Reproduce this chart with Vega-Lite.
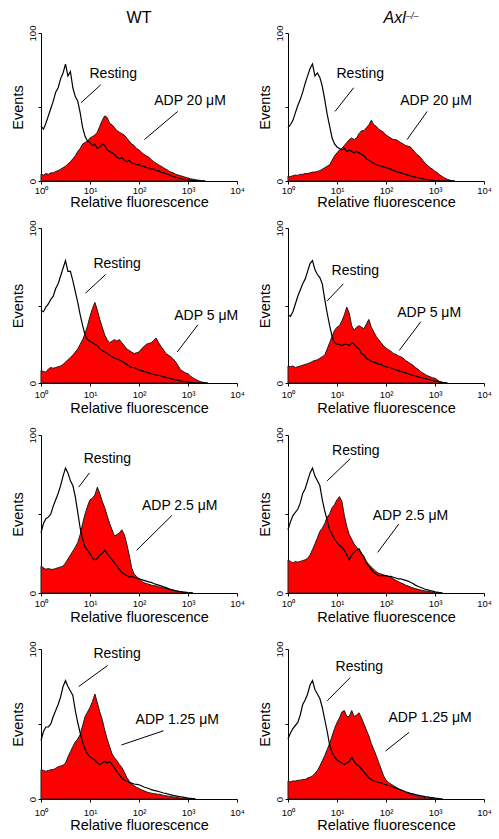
{
"$schema":"https://vega.github.io/schema/vega-lite/v6.json",
"background":"white",
"padding":{"left":10,"top":9,"right":0,"bottom":0},
"datasets":{
"p1":[{"x":0,"r":37,"a":4.5},{"x":0.05,"r":35,"a":4},{"x":0.1,"r":39,"a":5},{"x":0.15,"r":44,"a":4.5},{"x":0.2,"r":49,"a":5.5},{"x":0.25,"r":54,"a":5.5},{"x":0.3,"r":60,"a":6.5},{"x":0.35,"r":63,"a":7},{"x":0.4,"r":69,"a":8},{"x":0.45,"r":73,"a":9},{"x":0.5,"r":79,"a":10},{"x":0.55,"r":71,"a":11.5},{"x":0.6,"r":74,"a":13},{"x":0.65,"r":63,"a":15},{"x":0.7,"r":57,"a":17},{"x":0.75,"r":54,"a":20},{"x":0.8,"r":46,"a":22},{"x":0.85,"r":36,"a":25},{"x":0.9,"r":30,"a":26},{"x":0.95,"r":27,"a":27},{"x":1.0,"r":26,"a":29},{"x":1.05,"r":24,"a":30},{"x":1.1,"r":25,"a":31},{"x":1.15,"r":22,"a":33},{"x":1.2,"r":23,"a":37},{"x":1.25,"r":25,"a":41},{"x":1.3,"r":24,"a":44},{"x":1.35,"r":21,"a":43},{"x":1.4,"r":20,"a":39},{"x":1.45,"r":19,"a":38},{"x":1.5,"r":18,"a":36},{"x":1.55,"r":16,"a":34},{"x":1.6,"r":15,"a":33},{"x":1.65,"r":16,"a":32},{"x":1.7,"r":14,"a":31},{"x":1.75,"r":13,"a":29},{"x":1.8,"r":14,"a":27},{"x":1.85,"r":12,"a":25},{"x":1.9,"r":12,"a":24},{"x":1.95,"r":11,"a":22},{"x":2.0,"r":11,"a":21},{"x":2.05,"r":10,"a":19.5},{"x":2.1,"r":10,"a":18},{"x":2.15,"r":9,"a":17},{"x":2.2,"r":9,"a":16},{"x":2.25,"r":8,"a":14.5},{"x":2.3,"r":8,"a":13},{"x":2.35,"r":7,"a":12},{"x":2.4,"r":7,"a":11},{"x":2.45,"r":6,"a":10},{"x":2.5,"r":5.5,"a":9},{"x":2.55,"r":5,"a":8},{"x":2.6,"r":4.5,"a":7},{"x":2.65,"r":3.5,"a":6},{"x":2.7,"r":3,"a":5.5},{"x":2.75,"r":2.5,"a":4.5},{"x":2.8,"r":2,"a":4},{"x":2.85,"r":1.5,"a":3.5},{"x":2.9,"r":1.2,"a":3},{"x":2.95,"r":0.9,"a":2.5},{"x":3.0,"r":0.7,"a":2},{"x":3.05,"r":0.5,"a":1.5},{"x":3.1,"r":0.3,"a":1.2},{"x":3.15,"r":0.2,"a":0.9},{"x":3.2,"r":0,"a":0.6},{"x":3.25,"r":0,"a":0.4},{"x":3.3,"r":0,"a":0.2},{"x":3.35,"r":0,"a":0}],
"p2":[{"x":0,"r":36,"a":3.4},{"x":0.05,"r":38,"a":3},{"x":0.1,"r":41,"a":3.5},{"x":0.15,"r":46,"a":4},{"x":0.2,"r":51,"a":3.8},{"x":0.25,"r":55,"a":4.5},{"x":0.3,"r":60,"a":4.5},{"x":0.35,"r":66,"a":5},{"x":0.4,"r":71,"a":5},{"x":0.45,"r":76,"a":5.5},{"x":0.5,"r":79,"a":6},{"x":0.55,"r":71,"a":6},{"x":0.6,"r":73,"a":6.5},{"x":0.65,"r":70,"a":7},{"x":0.7,"r":64,"a":8},{"x":0.75,"r":55,"a":9},{"x":0.8,"r":45,"a":10},{"x":0.85,"r":37,"a":11},{"x":0.9,"r":29,"a":14},{"x":0.95,"r":25,"a":17},{"x":1.0,"r":23,"a":19},{"x":1.05,"r":22,"a":21},{"x":1.1,"r":21,"a":22},{"x":1.15,"r":22,"a":24},{"x":1.2,"r":20,"a":26},{"x":1.25,"r":21,"a":28},{"x":1.3,"r":20,"a":29},{"x":1.35,"r":19,"a":28},{"x":1.4,"r":20,"a":29},{"x":1.45,"r":19,"a":32},{"x":1.5,"r":18,"a":34},{"x":1.55,"r":17,"a":34},{"x":1.6,"r":15,"a":36},{"x":1.65,"r":14,"a":38},{"x":1.7,"r":13,"a":41},{"x":1.75,"r":12,"a":38},{"x":1.8,"r":11,"a":37},{"x":1.85,"r":10.5,"a":35},{"x":1.9,"r":10,"a":34},{"x":1.95,"r":9.5,"a":33},{"x":2.0,"r":9,"a":31},{"x":2.05,"r":8.5,"a":30},{"x":2.1,"r":8,"a":29},{"x":2.15,"r":7,"a":28},{"x":2.2,"r":6.5,"a":28},{"x":2.25,"r":6,"a":27},{"x":2.3,"r":5.5,"a":26},{"x":2.35,"r":5,"a":25},{"x":2.4,"r":4.5,"a":24},{"x":2.45,"r":4,"a":23.5},{"x":2.5,"r":3.4,"a":23},{"x":2.55,"r":3,"a":21},{"x":2.6,"r":2.6,"a":19},{"x":2.65,"r":2.2,"a":17.5},{"x":2.7,"r":1.8,"a":16},{"x":2.75,"r":1.5,"a":14},{"x":2.8,"r":1.2,"a":12},{"x":2.85,"r":1,"a":10.5},{"x":2.9,"r":0.7,"a":9},{"x":2.95,"r":0.5,"a":8},{"x":3.0,"r":0.3,"a":6.5},{"x":3.05,"r":0.2,"a":5.6},{"x":3.1,"r":0,"a":4},{"x":3.15,"r":0,"a":3},{"x":3.2,"r":0,"a":2},{"x":3.25,"r":0,"a":1.2},{"x":3.3,"r":0,"a":0.6},{"x":3.35,"r":0,"a":0.2},{"x":3.4,"r":0,"a":0}],
"p3":[{"x":0,"r":47,"a":8},{"x":0.05,"r":46,"a":7.5},{"x":0.1,"r":49,"a":7},{"x":0.15,"r":51,"a":9},{"x":0.2,"r":54,"a":10},{"x":0.25,"r":56,"a":9.5},{"x":0.3,"r":61,"a":10},{"x":0.35,"r":64,"a":10.5},{"x":0.4,"r":69,"a":11},{"x":0.45,"r":74,"a":12},{"x":0.5,"r":79,"a":13.5},{"x":0.55,"r":72,"a":15},{"x":0.6,"r":72,"a":16.5},{"x":0.65,"r":66,"a":18},{"x":0.7,"r":59,"a":20},{"x":0.75,"r":52,"a":22},{"x":0.8,"r":44,"a":25},{"x":0.85,"r":37,"a":28},{"x":0.9,"r":31,"a":32},{"x":0.95,"r":28,"a":37},{"x":1.0,"r":27,"a":43},{"x":1.05,"r":26,"a":48},{"x":1.1,"r":25,"a":52},{"x":1.15,"r":24,"a":47},{"x":1.2,"r":22,"a":41},{"x":1.25,"r":21,"a":36},{"x":1.3,"r":20,"a":31},{"x":1.35,"r":19,"a":28},{"x":1.4,"r":18,"a":26},{"x":1.45,"r":17,"a":27},{"x":1.5,"r":16,"a":28},{"x":1.55,"r":15.5,"a":27},{"x":1.6,"r":15,"a":28},{"x":1.65,"r":14,"a":26},{"x":1.7,"r":13,"a":24},{"x":1.75,"r":12,"a":22},{"x":1.8,"r":11,"a":21},{"x":1.85,"r":10,"a":20},{"x":1.9,"r":10,"a":19},{"x":1.95,"r":9,"a":19.5},{"x":2.0,"r":8.5,"a":20},{"x":2.05,"r":8,"a":22},{"x":2.1,"r":7.5,"a":23.5},{"x":2.15,"r":7,"a":25},{"x":2.2,"r":6.5,"a":25.5},{"x":2.25,"r":6,"a":26},{"x":2.3,"r":5.5,"a":27.5},{"x":2.35,"r":5,"a":29},{"x":2.4,"r":5,"a":26},{"x":2.45,"r":4.5,"a":23.5},{"x":2.5,"r":4,"a":21.5},{"x":2.55,"r":3.6,"a":19},{"x":2.6,"r":3.2,"a":18},{"x":2.65,"r":2.8,"a":17},{"x":2.7,"r":2.4,"a":15.5},{"x":2.75,"r":2,"a":13.5},{"x":2.8,"r":1.7,"a":11},{"x":2.85,"r":1.3,"a":8.5},{"x":2.9,"r":1,"a":7.5},{"x":2.95,"r":0.8,"a":6.5},{"x":3.0,"r":0.6,"a":6},{"x":3.05,"r":0.4,"a":4.5},{"x":3.1,"r":0.3,"a":3.3},{"x":3.15,"r":0.1,"a":2.5},{"x":3.2,"r":0,"a":1.6},{"x":3.25,"r":0,"a":0.9},{"x":3.3,"r":0,"a":0.5},{"x":3.35,"r":0,"a":0.2},{"x":3.4,"r":0,"a":0}],
"p4":[{"x":0,"r":44,"a":11},{"x":0.05,"r":43,"a":10.5},{"x":0.1,"r":46,"a":11},{"x":0.15,"r":51,"a":10},{"x":0.2,"r":56,"a":10.5},{"x":0.25,"r":60,"a":11},{"x":0.3,"r":64,"a":11.5},{"x":0.35,"r":67,"a":12},{"x":0.4,"r":72,"a":12.5},{"x":0.45,"r":77,"a":13},{"x":0.5,"r":79,"a":14},{"x":0.55,"r":73,"a":14.5},{"x":0.6,"r":70,"a":15},{"x":0.65,"r":68,"a":16},{"x":0.7,"r":64,"a":17},{"x":0.75,"r":54,"a":18},{"x":0.8,"r":45,"a":22},{"x":0.85,"r":37,"a":26},{"x":0.9,"r":30,"a":30},{"x":0.95,"r":26,"a":34},{"x":1.0,"r":25,"a":36},{"x":1.05,"r":25,"a":37},{"x":1.1,"r":24,"a":40},{"x":1.15,"r":25,"a":44},{"x":1.2,"r":25,"a":49},{"x":1.25,"r":24,"a":45},{"x":1.3,"r":26,"a":37},{"x":1.35,"r":25,"a":34},{"x":1.4,"r":23,"a":36},{"x":1.45,"r":22,"a":37},{"x":1.5,"r":19,"a":36},{"x":1.55,"r":18,"a":35},{"x":1.6,"r":16,"a":38},{"x":1.65,"r":15,"a":41},{"x":1.7,"r":14,"a":36},{"x":1.75,"r":13.5,"a":33},{"x":1.8,"r":13,"a":30},{"x":1.85,"r":12,"a":28},{"x":1.9,"r":12,"a":26},{"x":1.95,"r":11,"a":24},{"x":2.0,"r":10.5,"a":22.5},{"x":2.05,"r":10,"a":21.5},{"x":2.1,"r":10,"a":20.5},{"x":2.15,"r":9,"a":19},{"x":2.2,"r":8.5,"a":18.5},{"x":2.25,"r":8,"a":17.5},{"x":2.3,"r":7.5,"a":17},{"x":2.35,"r":7,"a":16},{"x":2.4,"r":6.5,"a":14.5},{"x":2.45,"r":6,"a":13.5},{"x":2.5,"r":5.3,"a":12.5},{"x":2.55,"r":5,"a":11.5},{"x":2.6,"r":4.5,"a":10},{"x":2.65,"r":4,"a":9},{"x":2.7,"r":3.6,"a":7.5},{"x":2.75,"r":3.2,"a":6.5},{"x":2.8,"r":2.8,"a":5.5},{"x":2.85,"r":2.4,"a":4.7},{"x":2.9,"r":2,"a":4},{"x":2.95,"r":1.6,"a":3.4},{"x":3.0,"r":1.3,"a":3},{"x":3.05,"r":1,"a":2},{"x":3.1,"r":0.7,"a":0.8},{"x":3.15,"r":0.4,"a":0.4},{"x":3.2,"r":0.2,"a":0.2},{"x":3.25,"r":0,"a":0}],
"p5":[{"x":0,"r":38,"a":17},{"x":0.05,"r":44,"a":16},{"x":0.1,"r":47,"a":15},{"x":0.15,"r":48,"a":15.5},{"x":0.2,"r":50,"a":15},{"x":0.25,"r":55,"a":15},{"x":0.3,"r":59,"a":15.5},{"x":0.35,"r":63,"a":16},{"x":0.4,"r":68,"a":16.5},{"x":0.45,"r":74,"a":17},{"x":0.5,"r":79,"a":19},{"x":0.55,"r":76,"a":21.5},{"x":0.6,"r":71,"a":24},{"x":0.65,"r":68,"a":26.5},{"x":0.7,"r":61,"a":29},{"x":0.75,"r":51,"a":32},{"x":0.8,"r":41,"a":37},{"x":0.85,"r":34,"a":44},{"x":0.9,"r":29,"a":50},{"x":0.95,"r":27,"a":55},{"x":1.0,"r":25,"a":59},{"x":1.05,"r":22,"a":60},{"x":1.1,"r":21,"a":62},{"x":1.15,"r":22,"a":67},{"x":1.2,"r":24,"a":63},{"x":1.25,"r":25,"a":58},{"x":1.3,"r":27,"a":54},{"x":1.35,"r":25,"a":49},{"x":1.4,"r":23,"a":44},{"x":1.45,"r":21,"a":40},{"x":1.5,"r":19,"a":36},{"x":1.55,"r":17,"a":37},{"x":1.6,"r":15,"a":38},{"x":1.65,"r":13,"a":40},{"x":1.7,"r":12,"a":37},{"x":1.75,"r":11,"a":31},{"x":1.8,"r":10,"a":24},{"x":1.85,"r":10.5,"a":16},{"x":1.9,"r":10,"a":12},{"x":1.95,"r":9.5,"a":10.5},{"x":2.0,"r":9,"a":9},{"x":2.05,"r":8.5,"a":7.5},{"x":2.1,"r":8,"a":6.5},{"x":2.15,"r":7.5,"a":6},{"x":2.2,"r":7,"a":5.5},{"x":2.25,"r":6.7,"a":5},{"x":2.3,"r":6,"a":4.7},{"x":2.35,"r":5.5,"a":4.4},{"x":2.4,"r":5,"a":4},{"x":2.45,"r":4.5,"a":3.6},{"x":2.5,"r":3.9,"a":3.2},{"x":2.55,"r":3.4,"a":2.8},{"x":2.6,"r":2.8,"a":2.4},{"x":2.65,"r":2.2,"a":2},{"x":2.7,"r":1.8,"a":1.7},{"x":2.75,"r":1.4,"a":1.4},{"x":2.8,"r":1.1,"a":1.1},{"x":2.85,"r":0.8,"a":0.9},{"x":2.9,"r":0.5,"a":0.7},{"x":2.95,"r":0.4,"a":0.5},{"x":3.0,"r":0.2,"a":0.3},{"x":3.05,"r":0.1,"a":0.1},{"x":3.1,"r":0,"a":0}],
"p6":[{"x":0,"r":40,"a":21},{"x":0.05,"r":45,"a":20},{"x":0.1,"r":49,"a":19},{"x":0.15,"r":51,"a":20},{"x":0.2,"r":53,"a":19.5},{"x":0.25,"r":57,"a":20},{"x":0.3,"r":63,"a":20.5},{"x":0.35,"r":66,"a":21},{"x":0.4,"r":71,"a":22},{"x":0.45,"r":76,"a":24},{"x":0.5,"r":79,"a":27.5},{"x":0.55,"r":74,"a":31},{"x":0.6,"r":71,"a":35},{"x":0.65,"r":68,"a":39},{"x":0.7,"r":59,"a":41},{"x":0.75,"r":52,"a":44},{"x":0.8,"r":46,"a":48},{"x":0.85,"r":40,"a":50},{"x":0.9,"r":37,"a":54},{"x":0.95,"r":34,"a":56},{"x":1.0,"r":32,"a":59},{"x":1.05,"r":30,"a":61},{"x":1.1,"r":29,"a":58},{"x":1.15,"r":27,"a":49},{"x":1.2,"r":24,"a":42},{"x":1.25,"r":21,"a":37},{"x":1.3,"r":24,"a":34},{"x":1.35,"r":26,"a":31},{"x":1.4,"r":27,"a":29},{"x":1.45,"r":28,"a":27},{"x":1.5,"r":25,"a":25},{"x":1.55,"r":23,"a":22.5},{"x":1.6,"r":19,"a":20},{"x":1.65,"r":17,"a":18},{"x":1.7,"r":15,"a":16.5},{"x":1.75,"r":13,"a":15},{"x":1.8,"r":12,"a":13.5},{"x":1.85,"r":11,"a":12.5},{"x":1.9,"r":11,"a":12},{"x":1.95,"r":11,"a":11.5},{"x":2.0,"r":11,"a":11},{"x":2.05,"r":10.5,"a":10.5},{"x":2.1,"r":10.5,"a":10},{"x":2.15,"r":10,"a":9},{"x":2.2,"r":9.5,"a":8},{"x":2.25,"r":9,"a":7.2},{"x":2.3,"r":9,"a":6.5},{"x":2.35,"r":8.5,"a":5.8},{"x":2.4,"r":8,"a":5},{"x":2.45,"r":7.5,"a":4.4},{"x":2.5,"r":6.8,"a":3.8},{"x":2.55,"r":6,"a":3.2},{"x":2.6,"r":5,"a":2.8},{"x":2.65,"r":4.3,"a":2.3},{"x":2.7,"r":3.6,"a":1.9},{"x":2.75,"r":3,"a":1.6},{"x":2.8,"r":2.4,"a":1.3},{"x":2.85,"r":2,"a":1.1},{"x":2.9,"r":1.6,"a":0.8},{"x":2.95,"r":1.2,"a":0.6},{"x":3.0,"r":0.8,"a":0.4},{"x":3.05,"r":0.5,"a":0.2},{"x":3.1,"r":0.3,"a":0.1},{"x":3.15,"r":0,"a":0}],
"p7":[{"x":0,"r":39,"a":19.6},{"x":0.05,"r":45,"a":19},{"x":0.1,"r":48,"a":18.5},{"x":0.15,"r":48,"a":19},{"x":0.2,"r":50,"a":19.5},{"x":0.25,"r":55,"a":19.6},{"x":0.3,"r":59,"a":20.5},{"x":0.35,"r":63,"a":21.5},{"x":0.4,"r":68,"a":22},{"x":0.45,"r":75,"a":22.5},{"x":0.5,"r":79,"a":24},{"x":0.55,"r":75,"a":28},{"x":0.6,"r":72,"a":31.5},{"x":0.65,"r":69,"a":35},{"x":0.7,"r":59,"a":38},{"x":0.75,"r":51,"a":40},{"x":0.8,"r":44,"a":43},{"x":0.85,"r":38,"a":49},{"x":0.9,"r":33,"a":55},{"x":0.95,"r":30,"a":58},{"x":1.0,"r":28,"a":61},{"x":1.05,"r":27,"a":65},{"x":1.1,"r":26,"a":70},{"x":1.15,"r":24,"a":64},{"x":1.2,"r":23,"a":58},{"x":1.25,"r":24,"a":53},{"x":1.3,"r":25,"a":46},{"x":1.35,"r":24,"a":40},{"x":1.4,"r":25,"a":35},{"x":1.45,"r":23,"a":30},{"x":1.5,"r":21,"a":27.5},{"x":1.55,"r":18,"a":25.5},{"x":1.6,"r":16,"a":23},{"x":1.65,"r":14,"a":21},{"x":1.7,"r":12.5,"a":18},{"x":1.75,"r":12,"a":14.5},{"x":1.8,"r":11,"a":12},{"x":1.85,"r":10.6,"a":10},{"x":1.9,"r":10,"a":8.8},{"x":1.95,"r":9.8,"a":7.8},{"x":2.0,"r":9.5,"a":7},{"x":2.05,"r":8.8,"a":6.2},{"x":2.1,"r":8,"a":5.5},{"x":2.15,"r":7.5,"a":4.8},{"x":2.2,"r":7,"a":4.3},{"x":2.25,"r":6.2,"a":3.9},{"x":2.3,"r":5.8,"a":3.6},{"x":2.35,"r":5.4,"a":3.3},{"x":2.4,"r":5,"a":3.2},{"x":2.45,"r":4.5,"a":2.9},{"x":2.5,"r":4,"a":2.4},{"x":2.55,"r":3.7,"a":2.1},{"x":2.6,"r":3.2,"a":1.9},{"x":2.65,"r":2.8,"a":1.6},{"x":2.7,"r":2.4,"a":1.4},{"x":2.75,"r":2.1,"a":1.2},{"x":2.8,"r":1.8,"a":0.9},{"x":2.85,"r":1.5,"a":0.7},{"x":2.9,"r":1.2,"a":0.5},{"x":2.95,"r":0.9,"a":0.4},{"x":3.0,"r":0.6,"a":0.3},{"x":3.05,"r":0.4,"a":0.2},{"x":3.1,"r":0.2,"a":0.1},{"x":3.15,"r":0,"a":0}],
"p8":[{"x":0,"r":40,"a":12},{"x":0.05,"r":44,"a":11.5},{"x":0.1,"r":47,"a":12},{"x":0.15,"r":49,"a":12},{"x":0.2,"r":51,"a":12.5},{"x":0.25,"r":56,"a":12.5},{"x":0.3,"r":63,"a":13},{"x":0.35,"r":66,"a":13},{"x":0.4,"r":70,"a":14},{"x":0.45,"r":76,"a":14.5},{"x":0.5,"r":79,"a":15.5},{"x":0.55,"r":73,"a":17},{"x":0.6,"r":70,"a":19},{"x":0.65,"r":67,"a":22},{"x":0.7,"r":61,"a":25.5},{"x":0.75,"r":53,"a":29},{"x":0.8,"r":45,"a":33},{"x":0.85,"r":36,"a":37},{"x":0.9,"r":31,"a":42},{"x":0.95,"r":28,"a":47},{"x":1.0,"r":26,"a":51},{"x":1.05,"r":25,"a":54},{"x":1.1,"r":24,"a":58},{"x":1.15,"r":23,"a":59},{"x":1.2,"r":24,"a":55},{"x":1.25,"r":25,"a":55},{"x":1.3,"r":28,"a":59},{"x":1.35,"r":25,"a":55},{"x":1.4,"r":23,"a":56},{"x":1.45,"r":22,"a":57.5},{"x":1.5,"r":20,"a":54},{"x":1.55,"r":18,"a":50},{"x":1.6,"r":16,"a":46},{"x":1.65,"r":14,"a":42},{"x":1.7,"r":13,"a":37},{"x":1.75,"r":12,"a":33},{"x":1.8,"r":11.5,"a":29},{"x":1.85,"r":11,"a":24.4},{"x":1.9,"r":10.8,"a":20},{"x":1.95,"r":10,"a":15.5},{"x":2.0,"r":9.5,"a":12.5},{"x":2.05,"r":9,"a":11},{"x":2.1,"r":8.5,"a":10},{"x":2.15,"r":7.8,"a":9},{"x":2.2,"r":7.2,"a":8},{"x":2.25,"r":6.7,"a":7},{"x":2.3,"r":6.2,"a":6.1},{"x":2.35,"r":5.5,"a":5.2},{"x":2.4,"r":4.8,"a":4.4},{"x":2.45,"r":4.3,"a":3.8},{"x":2.5,"r":3.8,"a":3.3},{"x":2.55,"r":3.4,"a":2.8},{"x":2.6,"r":3,"a":2.3},{"x":2.65,"r":2.6,"a":1.9},{"x":2.7,"r":2.2,"a":1.6},{"x":2.75,"r":1.9,"a":1.2},{"x":2.8,"r":1.6,"a":0.9},{"x":2.85,"r":1.4,"a":0.7},{"x":2.9,"r":1.1,"a":0.4},{"x":2.95,"r":0.9,"a":0.2},{"x":3.0,"r":0.6,"a":0.1},{"x":3.05,"r":0.4,"a":0},{"x":3.1,"r":0.1,"a":0},{"x":3.15,"r":0,"a":0}]
},
"vconcat":[
{"hconcat":[
{"width":196,"height":148,"layer":[
{"data":{"name":"p1"},"mark":{"type":"area","fill":"#ff0000","stroke":"#1a1a1a","strokeWidth":1},"encoding":{"x":{"field":"x","type":"quantitative","title":"Relative fluorescence","scale":{"domain":[0,4]},"axis":{"values":[0,1,2,3,4],"labelExpr":"'10' + ['⁰','¹','²','³','⁴'][datum.value]"}},"y":{"field":"a","type":"quantitative","title":"Events","scale":{"domain":[0,100]},"axis":{"values":[0,25,50,75,100],"labelExpr":"datum.value == 0 || datum.value == 100 ? datum.label : ''"}}}},
{"data":{"name":"p1"},"mark":{"type":"line","stroke":"black","strokeWidth":1.2},"encoding":{"x":{"field":"x","type":"quantitative","title":"Relative fluorescence"},"y":{"field":"r","type":"quantitative","title":"Events"}}},
{"data":{"values":[{"x":1.22,"y":65,"x2":0.82,"y2":53},{"x":2.79,"y":47,"x2":2.11,"y2":28}]},"mark":{"type":"rule","stroke":"black","strokeWidth":1},"encoding":{"x":{"field":"x","type":"quantitative","title":"Relative fluorescence"},"y":{"field":"y","type":"quantitative","title":"Events"},"x2":{"field":"x2"},"y2":{"field":"y2"}}},
{"data":{"values":[{"x":0.99,"y":72,"t":"Resting"},{"x":2.31,"y":54,"t":"ADP 20 μM"}]},"mark":{"type":"text","align":"left","baseline":"middle","fontSize":14,"font":"Liberation Sans","color":"black"},"encoding":{"x":{"field":"x","type":"quantitative","title":"Relative fluorescence"},"y":{"field":"y","type":"quantitative","title":"Events"},"text":{"field":"t"}}},
{"data":{"values":[{"x":2,"y":106.8,"t":"WT"}]},"mark":{"type":"text","align":"center","baseline":"alphabetic","fontSize":16,"font":"Liberation Sans","color":"black"},"encoding":{"x":{"field":"x","type":"quantitative","title":"Relative fluorescence"},"y":{"field":"y","type":"quantitative","title":"Events"},"text":{"field":"t"}}}
]},
{"width":196,"height":148,"layer":[
{"data":{"name":"p2"},"mark":{"type":"area","fill":"#ff0000","stroke":"#1a1a1a","strokeWidth":1},"encoding":{"x":{"field":"x","type":"quantitative","title":"Relative fluorescence","scale":{"domain":[0,4]},"axis":{"values":[0,1,2,3,4],"labelExpr":"'10' + ['⁰','¹','²','³','⁴'][datum.value]"}},"y":{"field":"a","type":"quantitative","title":"Events","scale":{"domain":[0,100]},"axis":{"values":[0,25,50,75,100],"labelExpr":"datum.value == 0 || datum.value == 100 ? datum.label : ''"}}}},
{"data":{"name":"p2"},"mark":{"type":"line","stroke":"black","strokeWidth":1.2},"encoding":{"x":{"field":"x","type":"quantitative","title":"Relative fluorescence"},"y":{"field":"r","type":"quantitative","title":"Events"}}},
{"data":{"values":[{"x":1.34,"y":63,"x2":0.96,"y2":47},{"x":2.84,"y":47,"x2":2.43,"y2":28}]},"mark":{"type":"rule","stroke":"black","strokeWidth":1},"encoding":{"x":{"field":"x","type":"quantitative","title":"Relative fluorescence"},"y":{"field":"y","type":"quantitative","title":"Events"},"x2":{"field":"x2"},"y2":{"field":"y2"}}},
{"data":{"values":[{"x":0.99,"y":72,"t":"Resting"},{"x":2.29,"y":54,"t":"ADP 20 μM"}]},"mark":{"type":"text","align":"left","baseline":"middle","fontSize":14,"font":"Liberation Sans","color":"black"},"encoding":{"x":{"field":"x","type":"quantitative","title":"Relative fluorescence"},"y":{"field":"y","type":"quantitative","title":"Events"},"text":{"field":"t"}}},
{"data":{"values":[{"x":1.95,"y":106.8,"t":"Axl"}]},"mark":{"type":"text","align":"left","baseline":"alphabetic","fontSize":16,"font":"Liberation Sans","fontStyle":"italic","color":"black"},"encoding":{"x":{"field":"x","type":"quantitative","title":"Relative fluorescence"},"y":{"field":"y","type":"quantitative","title":"Events"},"text":{"field":"t"}}},
{"data":{"values":[{"x":2.41,"y":109.5,"t":"–/–"}]},"mark":{"type":"text","align":"left","baseline":"alphabetic","fontSize":9,"font":"Liberation Sans","fontStyle":"italic","color":"black"},"encoding":{"x":{"field":"x","type":"quantitative","title":"Relative fluorescence"},"y":{"field":"y","type":"quantitative","title":"Events"},"text":{"field":"t"}}}
]}
],"spacing":12},
{"vconcat":[
{"hconcat":[
{"width":196,"height":155,"layer":[
{"data":{"name":"p3"},"mark":{"type":"area","fill":"#ff0000","stroke":"#1a1a1a","strokeWidth":1},"encoding":{"x":{"field":"x","type":"quantitative","title":"Relative fluorescence","scale":{"domain":[0,4]},"axis":{"values":[0,1,2,3,4],"labelExpr":"'10' + ['⁰','¹','²','³','⁴'][datum.value]","labelPadding":3,"titlePadding":3}},"y":{"field":"a","type":"quantitative","title":"Events","scale":{"domain":[0,100]},"axis":{"values":[0,25,50,75,100],"labelExpr":"datum.value == 0 || datum.value == 100 ? datum.label : ''"}}}},
{"data":{"name":"p3"},"mark":{"type":"line","stroke":"black","strokeWidth":1.2},"encoding":{"x":{"field":"x","type":"quantitative","title":"Relative fluorescence"},"y":{"field":"r","type":"quantitative","title":"Events"}}},
{"data":{"values":[{"x":1.32,"y":70,"x2":0.91,"y2":58},{"x":3.2,"y":37.5,"x2":2.78,"y2":20}]},"mark":{"type":"rule","stroke":"black","strokeWidth":1},"encoding":{"x":{"field":"x","type":"quantitative","title":"Relative fluorescence"},"y":{"field":"y","type":"quantitative","title":"Events"},"x2":{"field":"x2"},"y2":{"field":"y2"}}},
{"data":{"values":[{"x":1.07,"y":77,"t":"Resting"},{"x":2.72,"y":43,"t":"ADP 5 μM"}]},"mark":{"type":"text","align":"left","baseline":"middle","fontSize":14,"font":"Liberation Sans","color":"black"},"encoding":{"x":{"field":"x","type":"quantitative","title":"Relative fluorescence"},"y":{"field":"y","type":"quantitative","title":"Events"},"text":{"field":"t"}}}
]},
{"width":196,"height":155,"layer":[
{"data":{"name":"p4"},"mark":{"type":"area","fill":"#ff0000","stroke":"#1a1a1a","strokeWidth":1},"encoding":{"x":{"field":"x","type":"quantitative","title":"Relative fluorescence","scale":{"domain":[0,4]},"axis":{"values":[0,1,2,3,4],"labelExpr":"'10' + ['⁰','¹','²','³','⁴'][datum.value]","labelPadding":3,"titlePadding":3}},"y":{"field":"a","type":"quantitative","title":"Events","scale":{"domain":[0,100]},"axis":{"values":[0,25,50,75,100],"labelExpr":"datum.value == 0 || datum.value == 100 ? datum.label : ''"}}}},
{"data":{"name":"p4"},"mark":{"type":"line","stroke":"black","strokeWidth":1.2},"encoding":{"x":{"field":"x","type":"quantitative","title":"Relative fluorescence"},"y":{"field":"r","type":"quantitative","title":"Events"}}},
{"data":{"values":[{"x":1.13,"y":64,"x2":0.8,"y2":53},{"x":2.71,"y":39.5,"x2":2.27,"y2":21}]},"mark":{"type":"rule","stroke":"black","strokeWidth":1},"encoding":{"x":{"field":"x","type":"quantitative","title":"Relative fluorescence"},"y":{"field":"y","type":"quantitative","title":"Events"},"x2":{"field":"x2"},"y2":{"field":"y2"}}},
{"data":{"values":[{"x":0.89,"y":72,"t":"Resting"},{"x":2.23,"y":45,"t":"ADP 5 μM"}]},"mark":{"type":"text","align":"left","baseline":"middle","fontSize":14,"font":"Liberation Sans","color":"black"},"encoding":{"x":{"field":"x","type":"quantitative","title":"Relative fluorescence"},"y":{"field":"y","type":"quantitative","title":"Events"},"text":{"field":"t"}}}
]}
],"spacing":12},
{"vconcat":[
{"hconcat":[
{"width":196,"height":158,"layer":[
{"data":{"name":"p5"},"mark":{"type":"area","fill":"#ff0000","stroke":"#1a1a1a","strokeWidth":1},"encoding":{"x":{"field":"x","type":"quantitative","title":"Relative fluorescence","scale":{"domain":[0,4]},"axis":{"values":[0,1,2,3,4],"labelExpr":"'10' + ['⁰','¹','²','³','⁴'][datum.value]","labelPadding":2,"titlePadding":3}},"y":{"field":"a","type":"quantitative","title":"Events","scale":{"domain":[0,100]},"axis":{"values":[0,25,50,75,100],"labelExpr":"datum.value == 0 || datum.value == 100 ? datum.label : ''"}}}},
{"data":{"name":"p5"},"mark":{"type":"line","stroke":"black","strokeWidth":1.2},"encoding":{"x":{"field":"x","type":"quantitative","title":"Relative fluorescence"},"y":{"field":"r","type":"quantitative","title":"Events"}}},
{"data":{"values":[{"x":0.99,"y":76,"x2":0.77,"y2":67},{"x":2.67,"y":49,"x2":1.95,"y2":27}]},"mark":{"type":"rule","stroke":"black","strokeWidth":1},"encoding":{"x":{"field":"x","type":"quantitative","title":"Relative fluorescence"},"y":{"field":"y","type":"quantitative","title":"Events"},"x2":{"field":"x2"},"y2":{"field":"y2"}}},
{"data":{"values":[{"x":0.87,"y":85,"t":"Resting"},{"x":2.06,"y":55,"t":"ADP 2.5 μM"}]},"mark":{"type":"text","align":"left","baseline":"middle","fontSize":14,"font":"Liberation Sans","color":"black"},"encoding":{"x":{"field":"x","type":"quantitative","title":"Relative fluorescence"},"y":{"field":"y","type":"quantitative","title":"Events"},"text":{"field":"t"}}}
]},
{"width":196,"height":158,"layer":[
{"data":{"name":"p6"},"mark":{"type":"area","fill":"#ff0000","stroke":"#1a1a1a","strokeWidth":1},"encoding":{"x":{"field":"x","type":"quantitative","title":"Relative fluorescence","scale":{"domain":[0,4]},"axis":{"values":[0,1,2,3,4],"labelExpr":"'10' + ['⁰','¹','²','³','⁴'][datum.value]","labelPadding":2,"titlePadding":3}},"y":{"field":"a","type":"quantitative","title":"Events","scale":{"domain":[0,100]},"axis":{"values":[0,25,50,75,100],"labelExpr":"datum.value == 0 || datum.value == 100 ? datum.label : ''"}}}},
{"data":{"name":"p6"},"mark":{"type":"line","stroke":"black","strokeWidth":1.2},"encoding":{"x":{"field":"x","type":"quantitative","title":"Relative fluorescence"},"y":{"field":"r","type":"quantitative","title":"Events"}}},
{"data":{"values":[{"x":1.27,"y":85,"x2":0.8,"y2":71},{"x":2.26,"y":43.6,"x2":1.83,"y2":25.7}]},"mark":{"type":"rule","stroke":"black","strokeWidth":1},"encoding":{"x":{"field":"x","type":"quantitative","title":"Relative fluorescence"},"y":{"field":"y","type":"quantitative","title":"Events"},"x2":{"field":"x2"},"y2":{"field":"y2"}}},
{"data":{"values":[{"x":0.9,"y":90,"t":"Resting"},{"x":1.73,"y":49,"t":"ADP 2.5 μM"}]},"mark":{"type":"text","align":"left","baseline":"middle","fontSize":14,"font":"Liberation Sans","color":"black"},"encoding":{"x":{"field":"x","type":"quantitative","title":"Relative fluorescence"},"y":{"field":"y","type":"quantitative","title":"Events"},"text":{"field":"t"}}}
]}
],"spacing":12},
{"hconcat":[
{"width":196,"height":150,"layer":[
{"data":{"name":"p7"},"mark":{"type":"area","fill":"#ff0000","stroke":"#1a1a1a","strokeWidth":1},"encoding":{"x":{"field":"x","type":"quantitative","title":"Relative fluorescence","scale":{"domain":[0,4]},"axis":{"values":[0,1,2,3,4],"labelExpr":"'10' + ['⁰','¹','²','³','⁴'][datum.value]","labelPadding":5,"titlePadding":2}},"y":{"field":"a","type":"quantitative","title":"Events","scale":{"domain":[0,100]},"axis":{"values":[0,25,50,75,100],"labelExpr":"datum.value == 0 || datum.value == 100 ? datum.label : ''"}}}},
{"data":{"name":"p7"},"mark":{"type":"line","stroke":"black","strokeWidth":1.2},"encoding":{"x":{"field":"x","type":"quantitative","title":"Relative fluorescence"},"y":{"field":"r","type":"quantitative","title":"Events"}}},
{"data":{"values":[{"x":1.36,"y":89,"x2":0.77,"y2":75},{"x":2.5,"y":45.5,"x2":1.64,"y2":36}]},"mark":{"type":"rule","stroke":"black","strokeWidth":1},"encoding":{"x":{"field":"x","type":"quantitative","title":"Relative fluorescence"},"y":{"field":"y","type":"quantitative","title":"Events"},"x2":{"field":"x2"},"y2":{"field":"y2"}}},
{"data":{"values":[{"x":1.07,"y":97,"t":"Resting"},{"x":1.93,"y":53,"t":"ADP 1.25 μM"}]},"mark":{"type":"text","align":"left","baseline":"middle","fontSize":14,"font":"Liberation Sans","color":"black"},"encoding":{"x":{"field":"x","type":"quantitative","title":"Relative fluorescence"},"y":{"field":"y","type":"quantitative","title":"Events"},"text":{"field":"t"}}}
]},
{"width":196,"height":150,"layer":[
{"data":{"name":"p8"},"mark":{"type":"area","fill":"#ff0000","stroke":"#1a1a1a","strokeWidth":1},"encoding":{"x":{"field":"x","type":"quantitative","title":"Relative fluorescence","scale":{"domain":[0,4]},"axis":{"values":[0,1,2,3,4],"labelExpr":"'10' + ['⁰','¹','²','³','⁴'][datum.value]","labelPadding":5,"titlePadding":2}},"y":{"field":"a","type":"quantitative","title":"Events","scale":{"domain":[0,100]},"axis":{"values":[0,25,50,75,100],"labelExpr":"datum.value == 0 || datum.value == 100 ? datum.label : ''"}}}},
{"data":{"name":"p8"},"mark":{"type":"line","stroke":"black","strokeWidth":1.2},"encoding":{"x":{"field":"x","type":"quantitative","title":"Relative fluorescence"},"y":{"field":"r","type":"quantitative","title":"Events"}}},
{"data":{"values":[{"x":1.27,"y":81,"x2":0.8,"y2":65.5},{"x":2.47,"y":44.4,"x2":1.99,"y2":32}]},"mark":{"type":"rule","stroke":"black","strokeWidth":1},"encoding":{"x":{"field":"x","type":"quantitative","title":"Relative fluorescence"},"y":{"field":"y","type":"quantitative","title":"Events"},"x2":{"field":"x2"},"y2":{"field":"y2"}}},
{"data":{"values":[{"x":0.97,"y":88,"t":"Resting"},{"x":2.05,"y":54,"t":"ADP 1.25 μM"}]},"mark":{"type":"text","align":"left","baseline":"middle","fontSize":14,"font":"Liberation Sans","color":"black"},"encoding":{"x":{"field":"x","type":"quantitative","title":"Relative fluorescence"},"y":{"field":"y","type":"quantitative","title":"Events"},"text":{"field":"t"}}}
]}
],"spacing":12}
],"spacing":17}
],"spacing":12}
],
"spacing":11,
"config":{
"view":{"stroke":null},
"font":"Liberation Sans",
"axis":{"grid":false,"domainColor":"#000","domainWidth":1,"tickColor":"#000","tickSize":3,"labelColor":"#000","titleColor":"#000","labelFont":"Liberation Sans","titleFont":"Liberation Sans","titleFontWeight":"normal","titleFontSize":14.5,"labelFontSize":9.5},
"axisX":{"labelPadding":1,"titlePadding":1,"labelFlush":false,"labelOverlap":false},
"axisY":{"labelAngle":270,"labelAlign":"center","labelBaseline":"bottom","labelPadding":1,"titlePadding":2,"labelOverlap":false}
}
}
